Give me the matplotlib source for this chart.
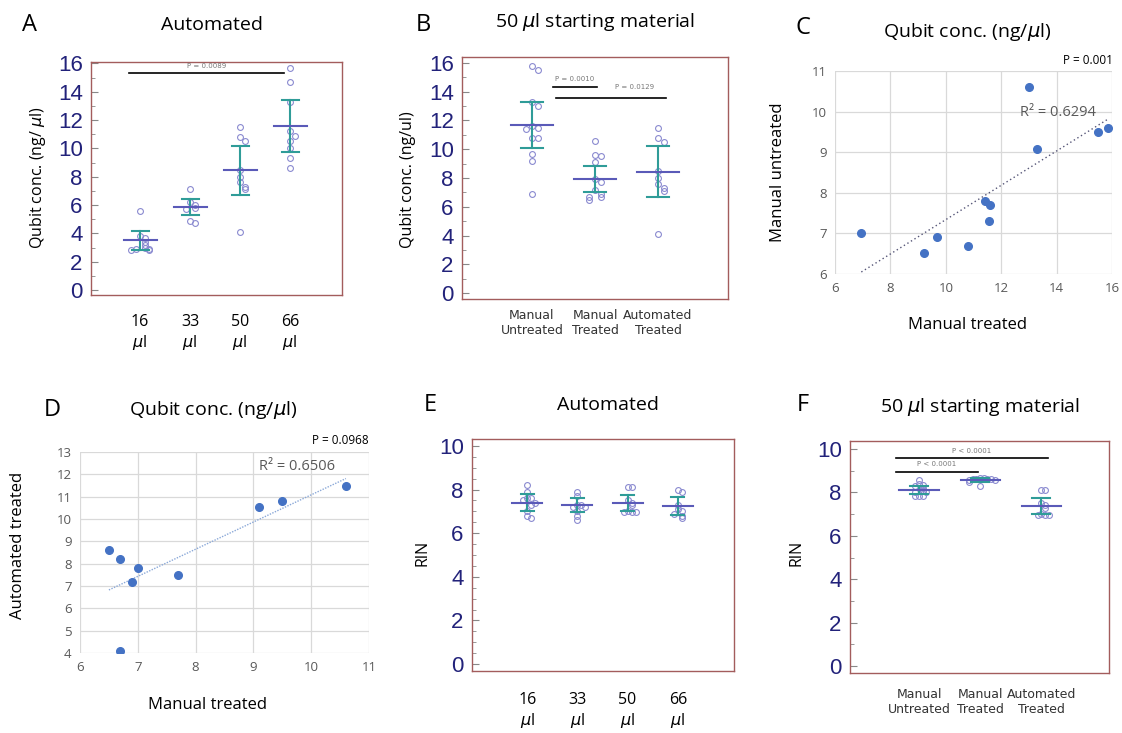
import numpy as np
import matplotlib
matplotlib.use("Agg")
import matplotlib.pyplot as plt
from matplotlib.ticker import MultipleLocator

W, H = 1122, 733

# ---- data ----
vol_labels = ["16\n$\\mu$l", "33\n$\\mu$l", "50\n$\\mu$l", "66\n$\\mu$l"]
method_labels = ["Manual\nUntreated", "Manual\nTreated", "Automated\nTreated"]

# A: Qubit conc., automated, by starting volume
qubit_auto = [
    [5.6, 3.8, 3.7, 3.4, 3.2, 3.0, 2.9, 2.9, 2.8, 2.8],
    [7.1, 6.2, 6.0, 5.8, 5.7, 4.9, 4.7],
    [11.5, 10.8, 10.5, 8.5, 8.0, 7.6, 7.3, 7.1, 4.1],
    [15.7, 14.7, 13.3, 11.2, 10.9, 10.5, 10.0, 9.3, 8.6],
]
qubit_auto_mean = [3.5, 5.85, 8.45, 11.6]
qubit_auto_sd = [0.7, 0.58, 1.75, 1.85]

# B: Qubit conc., 50 ul, by method
qubit_method = [
    [15.8, 15.5, 13.3, 13.0, 11.6, 11.5, 11.4, 10.8, 10.8, 9.7, 9.2, 6.9],
    [10.6, 9.6, 9.5, 9.1, 7.9, 7.7, 7.2, 6.9, 6.7, 6.7, 6.5],
    [11.5, 10.8, 10.5, 8.5, 8.0, 7.6, 7.3, 7.1, 4.1],
]
qubit_method_mean = [11.65, 7.95, 8.45]
qubit_method_sd = [1.6, 0.9, 1.75]

# C: manual treated vs manual untreated
c_x = [6.95, 9.2, 9.7, 10.8, 11.4, 11.6, 11.55, 13.0, 13.3, 15.5, 15.85]
c_y = [7.0, 6.52, 6.9, 6.7, 7.8, 7.7, 7.3, 10.6, 9.08, 9.5, 9.6]

# D: manual treated vs automated treated
d_x = [6.5, 6.7, 7.0, 6.9, 7.7, 6.7, 9.1, 9.5, 10.6]
d_y = [8.6, 8.2, 7.8, 7.2, 7.5, 4.1, 10.55, 10.8, 11.5]

# E: RIN, automated, by starting volume
rin_auto = [
    [8.2, 7.9, 7.6, 7.6, 7.5, 7.4, 7.3, 7.0, 6.8, 6.7],
    [7.9, 7.7, 7.3, 7.3, 7.2, 7.2, 7.0, 6.8, 6.6],
    [8.1, 8.1, 7.5, 7.4, 7.3, 7.0, 6.95, 6.95, 6.95],
    [8.0, 7.9, 7.3, 7.1, 7.0, 6.9, 6.8, 6.7],
]
rin_auto_mean = [7.4, 7.28, 7.38, 7.25]
rin_auto_sd = [0.4, 0.33, 0.38, 0.4]

# F: RIN, 50 ul, by method
rin_method = [
    [8.55, 8.4, 8.35, 8.3, 8.2, 8.1, 8.05, 8.0, 8.0, 7.85, 7.85, 7.85],
    [8.65, 8.65, 8.6, 8.6, 8.6, 8.6, 8.55, 8.55, 8.5, 8.3],
    [8.1, 8.1, 7.5, 7.4, 7.3, 7.0, 6.95, 6.95, 6.95],
]
rin_method_mean = [8.12, 8.58, 7.38]
rin_method_sd = [0.17, 0.08, 0.38]

# ---- styles ----
SPINE = "#a35c5c"
TICKNUM = "#22227a"
CIRCLE = "#8a8ad0"
MEANC = "#5a5ab8"
ERRC = "#2f9c98"
XLBLUE = "#4472c4"
GRID = "#d9d9d9"
GRAYTXT = "#595959"

fig = plt.figure(figsize=(W / 100, H / 100), dpi=100)


def rect(l, t, r, b):
    return [l / W, 1 - b / H, (r - l) / W, (b - t) / H]


def ftext(x, y, s, **kw):
    fig.text(x / W, 1 - y / H, s, **kw)


def swarm(vals, center, dy, dx):
    # simple beeswarm: neighbours within dy get pushed sideways
    placed, xs = [], []
    for v in vals:
        n = sum(1 for p in placed if abs(p - v) < dy)
        off = ((n + 1) // 2) * dx * (1 if n % 2 else -1)
        placed.append(v)
        xs.append(center + off)
    return xs


def dotplot(ax, groups, means, sds, dy, dx, halfw=0.33, capw=0.17):
    for i, vals in enumerate(groups):
        c = i + 1
        xs = swarm(vals, c, dy, dx)
        ax.plot(xs, vals, "o", ms=4.2, mfc="none", mec=CIRCLE, mew=0.8, zorder=3)
        m, s = means[i], sds[i]
        ax.plot([c, c], [m - s, m + s], color=ERRC, lw=1.5, zorder=4)
        for yy in (m - s, m + s):
            ax.plot([c - capw, c + capw], [yy, yy], color=ERRC, lw=1.5, zorder=4)
        ax.plot([c - halfw, c + halfw], [m, m], color=MEANC, lw=1.5, zorder=5)
    for sp in ax.spines.values():
        sp.set_color(SPINE)
        sp.set_linewidth(1.0)
    ax.tick_params(axis="y", which="both", direction="in", color="#888888",
                   labelcolor=TICKNUM, labelsize=16, pad=6)
    ax.tick_params(axis="y", which="major", length=5)
    ax.tick_params(axis="y", which="minor", length=3)
    ax.tick_params(axis="x", length=0)
    for lab in ax.get_yticklabels():
        lab.set_family("Liberation Sans")


def sigbar(ax, x0, x1, y, label, ty, tx=None):
    ax.plot([x0, x1], [y, y], color="black", lw=1.2, zorder=6)
    if tx is None:
        tx = (x0 + x1) / 2
    ax.text(tx, ty, label, ha="center", va="center",
            fontsize=5, color="#777777", family="DejaVu Sans")


def scatter_panel(ax, xs, ys, color_line, ls):
    ax.plot(xs, ys, "o", ms=5.5, color=XLBLUE, zorder=3)
    k, b0 = np.polyfit(xs, ys, 1)
    xx = np.array([min(xs), max(xs)])
    ax.plot(xx, k * xx + b0, linestyle=ls, color=color_line, lw=1.0, zorder=2)
    ax.grid(True, color=GRID, lw=0.9)
    ax.set_axisbelow(True)
    for sp in ax.spines.values():
        sp.set_visible(False)
    ax.tick_params(length=0, labelcolor=GRAYTXT, labelsize=9.5, pad=6)
    for lab in ax.get_xticklabels() + ax.get_yticklabels():
        lab.set_family("Open Sans")


TITLE = dict(fontsize=14, family="Open Sans", ha="center", va="center")
LETTER = dict(fontsize=17, family="Open Sans", ha="center", va="center")

# ---- A ----
axA = fig.add_axes(rect(91, 62, 342, 295))
dotplot(axA, qubit_auto, qubit_auto_mean, qubit_auto_sd, dy=0.35, dx=0.09)
axA.set_xlim(0.02, 5.04)
axA.set_ylim(-0.35, 16.1)
axA.yaxis.set_major_locator(MultipleLocator(2))
axA.yaxis.set_minor_locator(MultipleLocator(1))
axA.set_xticks(range(1, 5))
axA.set_xticklabels(vol_labels, fontsize=11.5, family="Open Sans")
axA.tick_params(axis="x", pad=14)
sigbar(axA, 0.78, 3.88, 15.3, "P = 0.0089", 15.8)
ftext(30, 25, "A", **LETTER)
ftext(212, 25, "Automated", **TITLE)
ftext(38, 178, "Qubit conc. (ng/ $\\mu$l)", rotation=90, fontsize=11.5,
      family="Open Sans", ha="center", va="center")

# ---- B ----
axB = fig.add_axes(rect(462, 57, 728, 299))
dotplot(axB, qubit_method, qubit_method_mean, qubit_method_sd, dy=0.35, dx=0.1)
axB.set_xlim(-0.11, 4.11)
axB.set_ylim(-0.4, 16.4)
axB.yaxis.set_major_locator(MultipleLocator(2))
axB.yaxis.set_minor_locator(MultipleLocator(1))
axB.set_xticks(range(1, 4))
axB.set_xticklabels(method_labels, fontsize=9, family="DejaVu Sans",
                    color="#333333")
axB.tick_params(axis="x", pad=7)
sigbar(axB, 1.33, 2.03, 14.3, "P = 0.0010", 14.9)
sigbar(axB, 1.38, 3.13, 13.55, "P = 0.0129", 14.3, tx=2.63)
ftext(423, 25, "B", **LETTER)
ftext(595, 22, "50 $\\mu$l starting material", **TITLE)
ftext(408, 180, "Qubit conc. (ng/ul)", rotation=90, fontsize=11.5,
      family="Open Sans", ha="center", va="center")

# ---- C ----
axC = fig.add_axes(rect(835, 71, 1112, 274))
scatter_panel(axC, c_x, c_y, "#555577", (0, (1, 2)))
axC.set_xlim(6, 16)
axC.set_ylim(6, 11)
axC.set_xticks(range(6, 17, 2))
axC.set_yticks(range(6, 12))
axC.text(14.05, 9.97, "R² = 0.6294", ha="center", va="center",
         fontsize=10.5, color=GRAYTXT, family="Open Sans")
ftext(803, 28, "C", **LETTER)
ftext(967, 32, "Qubit conc. (ng/$\\mu$l)", **TITLE)
ftext(1088, 60, "P = 0.001", fontsize=8.5, family="Open Sans",
      ha="center", va="center")
ftext(778, 172, "Manual untreated", rotation=90, fontsize=12,
      family="Open Sans", ha="center", va="center")
ftext(967, 325, "Manual treated", fontsize=12, family="Open Sans",
      ha="center", va="center")

# ---- D ----
axD = fig.add_axes(rect(80, 452, 369, 653))
scatter_panel(axD, d_x, d_y, "#8aa8d8", (0, (1, 1)))
axD.set_xlim(6, 11)
axD.set_ylim(4, 13)
axD.set_xticks(range(6, 12))
axD.set_yticks(range(4, 14))
axD.text(9.75, 12.37, "R² = 0.6506", ha="center", va="center",
         fontsize=10.5, color=GRAYTXT, family="Open Sans")
ftext(52, 410, "D", **LETTER)
ftext(213, 410, "Qubit conc. (ng/$\\mu$l)", **TITLE)
ftext(340, 440, "P = 0.0968", fontsize=8.5, family="Open Sans",
      ha="center", va="center")
ftext(18, 545, "Automated treated", rotation=90, fontsize=12,
      family="Open Sans", ha="center", va="center")
ftext(207, 705, "Manual treated", fontsize=12, family="Open Sans",
      ha="center", va="center")

# ---- E ----
axE = fig.add_axes(rect(472, 439, 734, 671))
dotplot(axE, rin_auto, rin_auto_mean, rin_auto_sd, dy=0.2, dx=0.08,
        halfw=0.3, capw=0.13)
axE.set_xlim(-0.1, 5.12)
axE.set_ylim(-0.32, 10.32)
axE.yaxis.set_major_locator(MultipleLocator(2))
axE.yaxis.set_minor_locator(MultipleLocator(0.5))
axE.set_xticks(range(1, 5))
axE.set_xticklabels(vol_labels, fontsize=11.5, family="Open Sans")
axE.tick_params(axis="x", pad=15)
ftext(430, 405, "E", **LETTER)
ftext(608, 405, "Automated", **TITLE)
ftext(422, 553, "RIN", rotation=90, fontsize=11.5, family="Open Sans",
      ha="center", va="center")

# ---- F ----
axF = fig.add_axes(rect(850, 441, 1109, 673))
dotplot(axF, rin_method, rin_method_mean, rin_method_sd, dy=0.12, dx=0.06,
        halfw=0.32, capw=0.15)
axF.set_xlim(-0.13, 4.11)
axF.set_ylim(-0.32, 10.37)
axF.yaxis.set_major_locator(MultipleLocator(2))
axF.yaxis.set_minor_locator(MultipleLocator(1))
axF.set_xticks(range(1, 4))
axF.set_xticklabels(method_labels, fontsize=9, family="DejaVu Sans",
                    color="#333333")
axF.tick_params(axis="x", pad=11)
sigbar(axF, 0.62, 1.97, 8.94, "P < 0.0001", 9.3)
sigbar(axF, 0.62, 3.11, 9.59, "P < 0.0001", 9.9)
ftext(803, 405, "F", **LETTER)
ftext(980, 407, "50 $\\mu$l starting material", **TITLE)
ftext(797, 553, "RIN", rotation=90, fontsize=11.5, family="Open Sans",
      ha="center", va="center")

fig.savefig("out.png", dpi=100)
